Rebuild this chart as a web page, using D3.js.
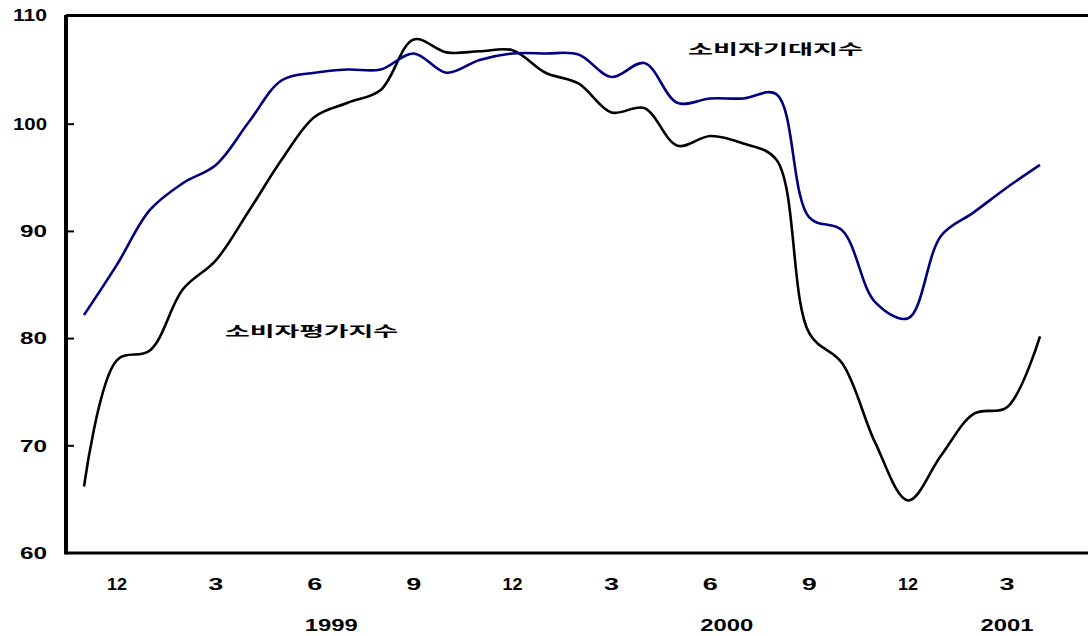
<!DOCTYPE html>
<html>
<head>
<meta charset="utf-8">
<script src="https://cdn.jsdelivr.net/npm/d3@7"></script>
<style>
    html, body { margin: 0; padding: 0; background: #fff; }
    svg { display: block; }
    text { font-family: "Liberation Sans", Arial, sans-serif; font-weight: bold; fill: #000; }
    .kr { font-family: "Noto Sans CJK KR", sans-serif; }
</style>
</head>
<body>
<svg id="chart" width="1088" height="636"></svg>
<script>
// monthly, Nov 1998 .. Apr 2001
var months = ["1998-11", "1998-12",
    "1999-01", "1999-02", "1999-03", "1999-04", "1999-05", "1999-06",
    "1999-07", "1999-08", "1999-09", "1999-10", "1999-11", "1999-12",
    "2000-01", "2000-02", "2000-03", "2000-04", "2000-05", "2000-06",
    "2000-07", "2000-08", "2000-09", "2000-10", "2000-11", "2000-12",
    "2001-01", "2001-02", "2001-03", "2001-04"];

// 소비자기대지수 (blue)
var expectIndex = [82.2, 86.9, 92.0, 94.5, 96.2, 100.2, 104.1, 104.8, 105.1, 105.1,
    106.6, 104.8, 106.0, 106.6, 106.6, 106.5, 104.4, 105.7, 102.0, 102.4,
    102.4, 102.8, 91.3, 90.1, 83.4, 81.9, 89.6, 91.8, 94.1, 96.2];

// 소비자평가지수 (black)
var evalIndex = [66.2, 78.0, 78.9, 84.6, 87.3, 91.9, 96.7, 100.7, 102.0, 103.2,
    107.9, 106.7, 106.8, 106.9, 104.8, 103.8, 101.1, 101.5, 98.0, 98.9,
    98.2, 96.7, 80.5, 77.7, 70.3, 64.9, 69.1, 73.0, 73.6, 80.2];

var yTicks = [60, 70, 80, 90, 100, 110];
var monthTicks = ["12", "3", "6", "9", "12", "3", "6", "9", "12", "3"];
var monthTickAt = [1, 4, 7, 10, 13, 16, 19, 22, 25, 28];
var yearLabels = ["1999", "2000", "2001"];
var yearLabelAt = [7.5, 19.5, 28];

var seriesNames = ["소비자기대지수", "소비자평가지수"];

(function () {
    var svg = d3.select("#chart");
    var left = 66, right = 1088, top = 17, bottom = 553;

    var x = d3.scaleLinear().domain([0, months.length - 1]).range([84, 1040]);
    var y = d3.scaleLinear().domain([60, 110]).range([bottom, top]);

    // frame: left axis, top and bottom lines
    svg.append("line")
        .attr("x1", left).attr("x2", left)
        .attr("y1", 15).attr("y2", bottom + 1.5)
        .attr("stroke", "#000").attr("stroke-width", 4);
    svg.append("line")
        .attr("x1", left).attr("x2", right)
        .attr("y1", 15.5).attr("y2", 15.5)
        .attr("stroke", "#000").attr("stroke-width", 3);
    svg.append("line")
        .attr("x1", left).attr("x2", right)
        .attr("y1", bottom).attr("y2", bottom)
        .attr("stroke", "#000").attr("stroke-width", 3);

    // y axis ticks (inward) and labels
    var yAxis = svg.append("g");
    yAxis.selectAll("line")
        .data(yTicks.filter(function (d) { return d > 60 && d < 110; }))
        .enter().append("line")
        .attr("x1", left).attr("x2", left + 8)
        .attr("y1", function (d) { return y(d); })
        .attr("y2", function (d) { return y(d); })
        .attr("stroke", "#000").attr("stroke-width", 2);

    yAxis.selectAll("text")
        .data(yTicks)
        .enter().append("text")
        .attr("x", 47)
        .attr("y", function (d) { return d === 110 ? 15 : y(d); })
        .attr("dy", "0.36em")
        .attr("text-anchor", "end")
        .attr("font-size", 16)
        .attr("textLength", function (d) { return String(d).length > 2 ? 34 : 27; })
        .attr("lengthAdjust", "spacingAndGlyphs")
        .text(function (d) { return d; });

    // month labels
    svg.append("g").selectAll("text")
        .data(monthTicks)
        .enter().append("text")
        .attr("x", function (d, i) { return x(monthTickAt[i]); })
        .attr("y", 584)
        .attr("dy", "0.36em")
        .attr("text-anchor", "middle")
        .attr("font-size", 16)
        .attr("textLength", function (d) { return d.length > 1 ? 20 : 15; })
        .attr("lengthAdjust", "spacingAndGlyphs")
        .text(function (d) { return d; });

    // year labels
    svg.append("g").selectAll("text")
        .data(yearLabels)
        .enter().append("text")
        .attr("x", function (d, i) { return x(yearLabelAt[i]); })
        .attr("y", 625)
        .attr("dy", "0.36em")
        .attr("text-anchor", "middle")
        .attr("font-size", 16)
        .attr("textLength", 53)
        .attr("lengthAdjust", "spacingAndGlyphs")
        .text(function (d) { return d; });

    // lines
    var line = d3.line()
        .x(function (d, i) { return x(i); })
        .y(function (d) { return y(d); })
        .curve(d3.curveCatmullRom.alpha(0.5));

    svg.append("path")
        .datum(evalIndex)
        .attr("d", line)
        .attr("fill", "none")
        .attr("stroke", "#000")
        .attr("stroke-width", 2.6)
        .attr("stroke-linejoin", "round");

    svg.append("path")
        .datum(expectIndex)
        .attr("d", line)
        .attr("fill", "none")
        .attr("stroke", "#000080")
        .attr("stroke-width", 2.6)
        .attr("stroke-linejoin", "round");

    // series labels
    svg.append("text")
        .attr("class", "kr")
        .attr("x", 688).attr("y", 49)
        .attr("dy", "0.36em")
        .attr("font-size", 14)
        .attr("textLength", 175)
        .attr("lengthAdjust", "spacingAndGlyphs")
        .text(seriesNames[0]);

    svg.append("text")
        .attr("class", "kr")
        .attr("x", 225).attr("y", 331)
        .attr("dy", "0.36em")
        .attr("font-size", 14)
        .attr("textLength", 173)
        .attr("lengthAdjust", "spacingAndGlyphs")
        .text(seriesNames[1]);
})();
</script>
</body>
</html>
